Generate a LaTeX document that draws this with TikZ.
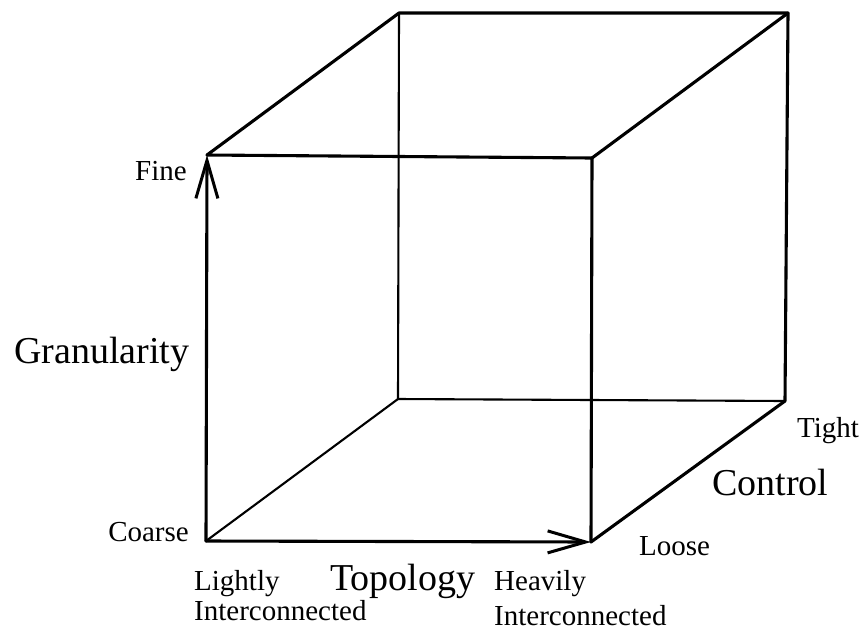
\documentclass[tikz,border=0pt]{standalone}
\usepackage{fontspec}
\setmainfont{Liberation Serif}
\usetikzlibrary{arrows.meta}
\begin{document}
\begin{tikzpicture}[x=1pt,y=-1pt,
  thickedge/.style={line width=3.1pt,line cap=round,line join=round},
  thinedge/.style={line width=2.1pt,line cap=round},
  axisarrow/.style={thickedge,-{Straight Barb[length=38pt,width=22pt,line width=3pt]}},
  small/.style={inner sep=0pt,font=\fontsize{29}{32}\selectfont},
  big/.style={inner sep=0pt,font=\fontsize{38}{41}\selectfont}]
\useasboundingbox (0,0) rectangle (862,630);
% corners
\coordinate (FBL) at (206,541);
\coordinate (FBR) at (591,542);
\coordinate (FTL) at (207,155);
\coordinate (FTR) at (592,158);
\coordinate (BBL) at (398,399);
\coordinate (BBR) at (785,401);
\coordinate (BTL) at (399,13);
\coordinate (BTR) at (788,13);
% hidden edges
\draw[thinedge] (BTL) -- (BBL);
\draw[thinedge] (BBL) -- (BBR);
\draw[thinedge] (FBL) -- (BBL);
% visible edges
\draw[thickedge] (FTL) -- (FTR) -- (FBR);
\draw[thickedge] (FTL) -- (BTL) -- (BTR) -- (BBR) -- (FBR);
\draw[thickedge] (FTR) -- (BTR);
\draw[axisarrow] (FBL) -- (FTL);
\draw[axisarrow] (FBL) -- (FBR);
% labels
\node[small,anchor=base east] (fine) at (187,180) {Fine};
\node[small,anchor=base east] (coarse) at (189,541) {Coarse};
\node[big,anchor=base west] (gran) at (14,363) {Granularity};
\node[small,anchor=base west] (light) at (194,590) {Lightly};
\node[small,anchor=base west] (lightint) at (194,620) {Interconnected};
\node[big,anchor=base west] (topo) at (330,590) {Topology};
\node[small,anchor=base west] (heavy) at (494,590) {Heavily};
\node[small,anchor=base west] (heavyint) at (494,625) {Interconnected};
\node[small,anchor=base west] (tight) at (797,437) {Tight};
\node[big,anchor=base west] (ctrl) at (712,495) {Control};
\node[small,anchor=base west] (loose) at (639,555) {Loose};
\end{tikzpicture}
\end{document}
